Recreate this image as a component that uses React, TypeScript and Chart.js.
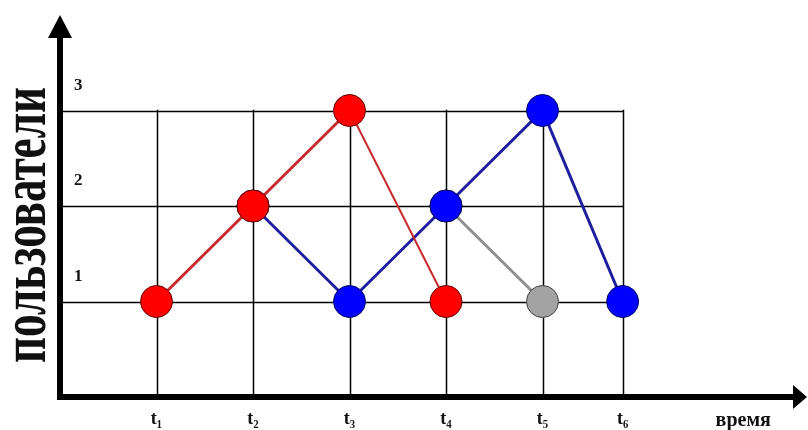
import React, { useEffect, useRef } from 'react';
import { Chart, registerables } from 'chart.js';

Chart.register(...registerables);

const timeLabels = ['t₁', 't₂', 't₃', 't₄', 't₅', 't₆'];
const timeValues = [1, 2, 3, 4, 5, 5.83];
const axisTitleX = 'время';
const axisTitleXValue = 7.08;
const axisTitleY = 'пользователи';
const userTicks = [1, 2, 3];
const redUsers = [1, 2, 3, 1, null, null];
const blueUsers = [null, 2, 1, 2, 3, 1];
const grayUsers = [null, null, null, 2, 1, null];

const FAMILY = '"Liberation Serif", "Times New Roman", serif';

function toPoints(values: (number | null)[]) {
  return timeValues
    .map((x, i) => ({ x, y: values[i] }))
    .filter((p) => p.y !== null) as { x: number; y: number }[];
}

function zeroPadding(s: any) {
  s.paddingTop = 0;
  s.paddingBottom = 0;
  s.paddingLeft = 0;
  s.paddingRight = 0;
}

const scenePlugin = {
  id: 'scene',
  beforeDatasetsDraw(chart: any) {
    const { ctx, chartArea, scales } = chart;
    const xs = scales.x;
    const ys = scales.y;
    const x0 = xs.getPixelForValue(0);
    const y0 = ys.getPixelForValue(0);
    const yTop = ys.getPixelForValue(userTicks[userTicks.length - 1]);
    const xRight = xs.getPixelForValue(timeValues[timeValues.length - 1]);
    ctx.save();
    ctx.strokeStyle = '#000';
    ctx.lineWidth = 1.5;
    ctx.beginPath();
    timeValues.forEach((v) => {
      const px = Math.round(xs.getPixelForValue(v)) + 0.5;
      ctx.moveTo(px, y0);
      ctx.lineTo(px, yTop - 0.75);
    });
    userTicks.forEach((u) => {
      const py = Math.round(ys.getPixelForValue(u)) + 0.5;
      ctx.moveTo(x0, py);
      ctx.lineTo(xRight + 0.75, py);
    });
    ctx.stroke();

    // axes
    ctx.fillStyle = '#000';
    ctx.lineWidth = 6;
    ctx.beginPath();
    ctx.moveTo(x0, y0 + 3);
    ctx.lineTo(x0, chartArea.top + 20);
    ctx.moveTo(x0 - 3, y0);
    ctx.lineTo(chartArea.right - 8, y0);
    ctx.stroke();
    // arrows
    ctx.beginPath();
    ctx.moveTo(x0, chartArea.top);
    ctx.lineTo(x0 - 12, chartArea.top + 23);
    ctx.lineTo(x0 + 12, chartArea.top + 23);
    ctx.closePath();
    ctx.fill();
    ctx.beginPath();
    ctx.moveTo(chartArea.right + 2, y0);
    ctx.lineTo(chartArea.right - 12, y0 - 12);
    ctx.lineTo(chartArea.right - 12, y0 + 12);
    ctx.closePath();
    ctx.fill();
    ctx.restore();
  },
  afterDraw(chart: any) {
    const { ctx } = chart;
    ctx.save();
    ctx.translate(45, 225);
    ctx.rotate(-Math.PI / 2);
    ctx.font = 'bold 46px ' + FAMILY;
    const w = ctx.measureText(axisTitleY).width;
    ctx.scale(276 / w, 1.36);
    ctx.fillStyle = '#111';
    ctx.textAlign = 'center';
    ctx.textBaseline = 'alphabetic';
    ctx.fillText(axisTitleY, 0, 0);
    ctx.restore();
  },
};

export default function App() {
  const ref = useRef<HTMLCanvasElement>(null);
  useEffect(() => {
    if (!ref.current) return;
    const chart = new Chart(ref.current, {
      type: 'line',
      data: {
        datasets: [
          {
            label: 'red',
            data: toPoints(redUsers),
            borderColor: '#c92a2e',
            borderWidth: 3,
            backgroundColor: '#ff0000',
            pointBackgroundColor: '#ff0000',
            pointBorderColor: '#5a0000',
            pointBorderWidth: 1,
            pointRadius: 16,
            segment: {
              borderWidth: (c: any) => (c.p0DataIndex === 2 ? 2 : 3),
            },
            clip: false,
          } as any,
          {
            label: 'blue',
            data: toPoints(blueUsers),
            borderColor: '#1f1f9e',
            borderWidth: 3,
            backgroundColor: '#0000ff',
            pointBackgroundColor: '#0000ff',
            pointBorderColor: '#00005a',
            pointBorderWidth: 1,
            pointRadius: 16,
            clip: false,
          },
          {
            label: 'gray',
            data: toPoints(grayUsers),
            borderColor: '#8f8f8f',
            borderWidth: 3,
            backgroundColor: '#a3a3a3',
            pointBackgroundColor: '#a3a3a3',
            pointBorderColor: '#404040',
            pointBorderWidth: 1,
            pointRadius: 16,
            clip: false,
          },
        ],
      },
      options: {
        animation: false,
        responsive: false,
        events: [],
        layout: { autoPadding: false, padding: { top: 15, right: 3, left: 0, bottom: 0 } },
        plugins: { legend: { display: false }, tooltip: { enabled: false } },
        scales: {
          x: {
            type: 'linear',
            min: 0,
            max: 7.72,
            grid: { display: false, drawTicks: false },
            border: { display: false },
            afterFit: (s: any) => {
              s.height = 33;
              zeroPadding(s);
            },
            afterBuildTicks: (s: any) => {
              s.ticks = [...timeValues, axisTitleXValue].map((v) => ({ value: v }));
            },
            ticks: {
              autoSkip: false,
              maxRotation: 0,
              padding: 12,
              color: '#111',
              callback: (_v: any, i: number) => (i < timeLabels.length ? timeLabels[i] : axisTitleX),
              font: (c: any) =>
                c.index === timeLabels.length
                  ? { family: FAMILY, size: 20, weight: 'bold' }
                  : { family: FAMILY, size: 18, weight: 'bold' },
            },
          },
          y: {
            type: 'linear',
            min: 0,
            max: 4,
            grid: { display: false, drawTicks: false },
            border: { display: false },
            afterFit: (s: any) => {
              s.width = 60;
              zeroPadding(s);
            },
            afterBuildTicks: (s: any) => {
              s.ticks = userTicks.map((v) => ({ value: v }));
            },
            ticks: {
              mirror: true,
              padding: 14,
              labelOffset: -25,
              color: '#111',
              font: { family: FAMILY, size: 17, weight: 'bold' },
            },
          },
        },
      },
      plugins: [scenePlugin],
    });
    return () => chart.destroy();
  }, []);
  return (
    <div style={{ position: 'fixed', left: 0, top: 0, width: 808, height: 430, background: '#fff' }}>
      <canvas ref={ref} width={808} height={430} />
    </div>
  );
}
